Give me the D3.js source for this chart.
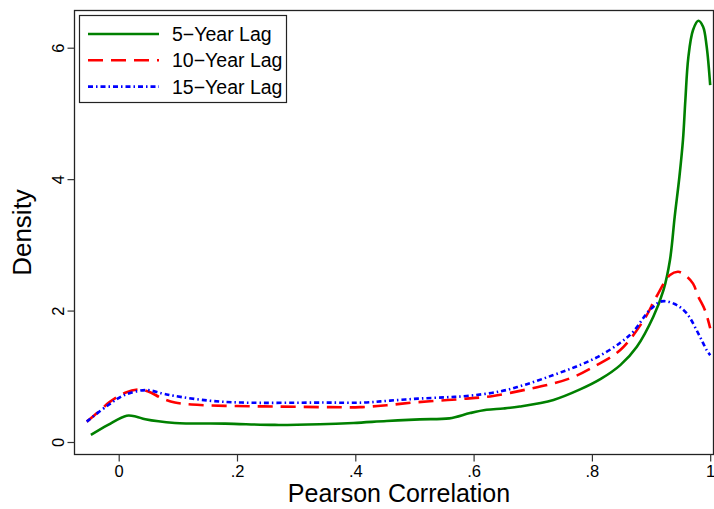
<!DOCTYPE html>
<html>
<head>
<meta charset="utf-8">
<script src="https://cdn.jsdelivr.net/npm/d3@7"></script>
<style>
  html, body { margin: 0; padding: 0; background: #fff; }
  svg { display: block; }
  text { font-family: "Liberation Sans", Arial, Helvetica, sans-serif; fill: #000; }
</style>
</head>
<body>
<svg id="chart" width="714" height="509"></svg>
<script>
// ---- Data ----
const seriesNames = ["5\u2212Year Lag", "10\u2212Year Lag", "15\u2212Year Lag"];

const lag5X = [-0.047, -0.018, 0.0135, 0.03, 0.045, 0.095, 0.18, 0.264, 0.34, 0.397, 0.453, 0.509, 0.559, 0.594, 0.622, 0.65, 0.678, 0.735, 0.78, 0.815, 0.848, 0.876, 0.904, 0.921, 0.932, 0.940, 0.948, 0.954, 0.958, 0.963, 0.971, 0.980, 0.988, 0.994, 1.0];
const lag5Y = [0.107, 0.26, 0.40, 0.385, 0.345, 0.29, 0.28, 0.26, 0.27, 0.29, 0.32, 0.345, 0.36, 0.44, 0.49, 0.51, 0.54, 0.64, 0.80, 0.96, 1.17, 1.45, 1.91, 2.31, 2.77, 3.43, 4.04, 4.6, 5.2, 5.85, 6.27, 6.41, 6.32, 6.02, 5.43];

const lag10X = [-0.054, -0.034, -0.015, 0.011, 0.033, 0.05, 0.073, 0.095, 0.123, 0.18, 0.264, 0.357, 0.408, 0.453, 0.498, 0.543, 0.588, 0.633, 0.69, 0.735, 0.769, 0.802, 0.848, 0.888, 0.909, 0.932, 0.946, 0.960, 0.971, 0.980, 0.991, 1.0];
const lag10Y = [0.31, 0.46, 0.61, 0.75, 0.80, 0.77, 0.665, 0.60, 0.57, 0.55, 0.54, 0.53, 0.53, 0.56, 0.60, 0.63, 0.66, 0.70, 0.80, 0.89, 0.99, 1.14, 1.40, 1.86, 2.21, 2.54, 2.59, 2.52, 2.41, 2.21, 2.01, 1.73];

const lag15X = [-0.054, -0.018, 0.011, 0.047, 0.073, 0.095, 0.152, 0.208, 0.346, 0.414, 0.459, 0.506, 0.552, 0.588, 0.645, 0.69, 0.735, 0.774, 0.811, 0.848, 0.870, 0.898, 0.918, 0.940, 0.960, 0.980, 0.994, 1.0];
const lag15Y = [0.31, 0.56, 0.72, 0.79, 0.74, 0.70, 0.63, 0.60, 0.60, 0.60, 0.63, 0.66, 0.68, 0.70, 0.77, 0.88, 1.02, 1.15, 1.30, 1.51, 1.68, 2.01, 2.14, 2.10, 1.96, 1.65, 1.40, 1.32];

const xTickValues = [0, 0.2, 0.4, 0.6, 0.8, 1];
const xTickLabels = ["0", ".2", ".4", ".6", ".8", "1"];
const yTickValues = [0, 2, 4, 6];
const yTickLabels = ["0", "2", "4", "6"];

const xTitle = "Pearson Correlation";
const yTitle = "Density";

// ---- Layout ----
const svg = d3.select("#chart");
const box = { left: 74.5, right: 713.5, top: 10.5, bottom: 454.5 };

const x = d3.scaleLinear().domain([0, 1]).range([118.7, 710.2]);
const y = d3.scaleLinear().domain([0, 6]).range([442, 47.7]);

// frame
svg.append("rect")
  .attr("x", box.left).attr("y", box.top)
  .attr("width", box.right - box.left).attr("height", box.bottom - box.top)
  .attr("fill", "none").attr("stroke", "#222").attr("stroke-width", 1.3);

// x axis
const xAxis = d3.axisBottom(x).tickValues(xTickValues)
  .tickFormat((d, i) => xTickLabels[i]).tickSize(7).tickPadding(4);
const gx = svg.append("g").attr("transform", `translate(0,${box.bottom})`).call(xAxis);
gx.select(".domain").remove();
gx.selectAll(".tick line").attr("stroke", "#333").attr("stroke-width", 1.2);
gx.selectAll(".tick text").attr("font-size", 16.5).attr("fill", "#000");

// y axis
const yAxis = d3.axisLeft(y).tickValues(yTickValues)
  .tickFormat((d, i) => yTickLabels[i]).tickSize(7).tickPadding(0);
const gy = svg.append("g").attr("transform", `translate(${box.left},0)`).call(yAxis);
gy.select(".domain").remove();
gy.selectAll(".tick line").attr("stroke", "#333").attr("stroke-width", 1.2);
gy.selectAll(".tick text")
  .attr("font-size", 16.5).attr("fill", "#000")
  .attr("x", 0).attr("dy", 0)
  .attr("text-anchor", "middle")
  .attr("transform", "translate(-17,0) rotate(-90)")
  .attr("dominant-baseline", "central");

// axis titles
svg.append("text").attr("x", 399).attr("y", 502)
  .attr("text-anchor", "middle").attr("font-size", 25).text(xTitle);
svg.append("text")
  .attr("transform", `translate(31,${(box.top + box.bottom) / 2}) rotate(-90)`)
  .attr("text-anchor", "middle").attr("font-size", 26).text(yTitle);

// lines
const series = [
  { name: seriesNames[0], xs: lag5X, ys: lag5Y, color: "#008000", dash: null },
  { name: seriesNames[1], xs: lag10X, ys: lag10Y, color: "#ff0000", dash: "15,8" },
  { name: seriesNames[2], xs: lag15X, ys: lag15Y, color: "#0000ff", dash: "5,3,1.5,3" }
];

const line = d3.line().x(d => x(d[0])).y(d => y(d[1])).curve(d3.curveCatmullRom.alpha(0.5));

const plot = svg.append("g");
series.forEach(s => {
  const pts = s.xs.map((v, i) => [v, s.ys[i]]);
  plot.append("path").datum(pts)
    .attr("d", line)
    .attr("fill", "none")
    .attr("stroke", s.color)
    .attr("stroke-width", 2.6)
    .attr("stroke-dasharray", s.dash)
    .attr("stroke-linejoin", "round");
});

// legend
const lg = svg.append("g");
lg.append("rect").attr("x", 79.5).attr("y", 15.5).attr("width", 207).attr("height", 87)
  .attr("fill", "#fff").attr("stroke", "#222").attr("stroke-width", 1.2);
series.forEach((s, i) => {
  const yy = 34 + i * 26.3;
  lg.append("line").attr("x1", 88).attr("x2", 159).attr("y1", yy).attr("y2", yy)
    .attr("stroke", s.color).attr("stroke-width", 2.6).attr("stroke-dasharray", s.dash);
  lg.append("text").attr("x", 172).attr("y", yy).attr("dy", "0.36em")
    .attr("font-size", 19.5).text(s.name);
});
</script>
</body>
</html>
